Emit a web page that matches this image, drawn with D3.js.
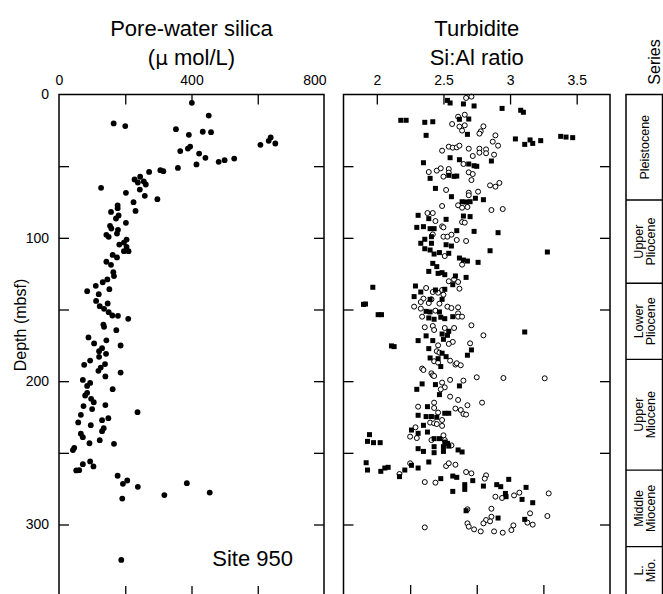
<!DOCTYPE html>
<html>
<head>
<meta charset="utf-8">
<script src="https://cdn.jsdelivr.net/npm/d3@7"></script>
<style>
  body { margin: 0; background: #fff; }
  text { font-family: "Liberation Sans", Arial, Helvetica, sans-serif; fill: #000; }
</style>
</head>
<body>
<svg id="chart" width="663" height="594"></svg>
<script>
// Pore-water silica, Site 950: [silica (µmol/L), depth (mbsf)]
const silica = [
  [401,5.8],[452,14.7],[165,20.2],[200,22.0],[353,24.2],[434,26.0],[459,26.3],[392,28.1],
  [639,30.0],[633,32.3],[653,34.2],[608,35.1],[396,36.3],[389,37.7],[366,39.5],[423,41.2],
  [442,44.2],[529,44.7],[500,45.8],[482,47.0],[415,48.8],[359,51.2],[272,54.0],[306,52.8],
  [315,53.5],[245,57.4],[228,59.3],[238,61.4],[256,60.7],[262,62.8],[127,65.1],[244,66.3],
  [202,68.6],[259,70.7],[297,73.0],[225,75.1],[177,77.4],[177,79.3],[231,81.2],[157,81.9],
  [180,84.4],[172,86.5],[202,89.5],[154,91.6],[158,93.5],[178,94.4],[175,97.0],[143,97.9],
  [150,99.3],[204,101.2],[196,103.3],[182,104.7],[204,106.3],[210,109.3],[196,109.3],[162,111.9],
  [175,113.7],[143,116.7],[157,118.8],[164,124.0],[166,126.7],[146,129.0],[132,131.0],[111,133.5],
  [152,135.8],[85,137.2],[120,139.3],[112,144.0],[147,145.8],[123,147.7],[136,149.5],[150,151.9],
  [161,154.2],[178,154.4],[209,156.5],[134,160.5],[136,162.1],[173,164.4],[89,169.5],[143,171.5],
  [106,173.7],[186,175.1],[130,177.0],[121,179.1],[142,180.9],[121,183.0],[94,185.6],[76,188.6],
  [139,188.1],[126,190.5],[119,192.8],[186,194.0],[140,196.7],[72,199.1],[94,201.2],[85,203.3],
  [162,205.6],[85,208.1],[79,210.0],[97,212.3],[105,214.7],[74,217.4],[140,216.7],[100,219.5],
  [237,221.6],[66,223.5],[149,225.8],[130,227.2],[58,228.8],[96,230.7],[135,232.8],[130,234.9],
  [66,236.7],[72,239.1],[123,241.2],[92,243.3],[166,243.7],[46,246.5],[42,248.1],[94,256.0],
  [72,257.9],[104,259.5],[61,262.1],[52,262.3],[177,266.0],[206,269.3],[193,271.6],[386,271.2],
  [238,273.7],[455,277.7],[318,279.5],[191,281.9],[188,324.7]
];

// Turbidite Si:Al ratio, filled squares: [ratio, depth (mbsf)]
const ratioSquares = [
  [2.53,4.1],[2.55,5.9],[2.65,6.6],[2.73,8.0],[2.94,9.7],[3.08,11.0],[3.10,12.4],[2.18,18.0],
  [2.22,18.0],[2.36,19.4],[2.42,19.0],[2.62,17.3],[2.69,17.1],[2.37,28.5],[2.68,27.8],[3.04,31.0],
  [3.11,34.8],[3.15,31.7],[3.17,34.1],[3.23,32.2],[3.38,29.2],[3.42,29.7],[3.47,30.1],[2.35,47.6],
  [2.55,44.1],[2.62,45.5],[2.69,48.5],[2.73,49.7],[2.75,50.1],[2.86,46.4],[2.40,58.5],[2.54,56.4],
  [2.58,57.1],[2.60,56.9],[2.44,65.5],[2.56,71.3],[2.74,72.4],[2.80,73.4],[2.64,74.8],[2.67,75.0],
  [2.70,74.8],[2.31,84.3],[2.39,86.6],[2.52,87.1],[2.65,84.8],[2.70,85.2],[2.30,92.7],[2.35,92.2],
  [2.40,93.6],[2.43,93.6],[2.41,99.2],[2.36,101.0],[2.33,103.8],[2.41,103.8],[2.36,107.6],[2.40,108.5],
  [2.43,111.3],[2.47,110.3],[2.54,110.8],[2.52,104.8],[2.56,105.7],[2.60,95.0],[2.73,95.5],[2.91,96.4],
  [2.85,109.0],[3.28,109.9],[2.62,114.1],[2.65,115.5],[2.68,116.2],[2.76,117.1],[2.42,117.8],[2.45,120.1],
  [2.39,123.4],[2.46,124.8],[2.49,124.3],[2.51,125.7],[2.59,126.6],[2.67,127.6],[2.57,132.7],[2.29,133.6],
  [2.33,137.8],[2.44,136.4],[2.51,135.9],[1.97,134.5],[2.28,141.0],[2.40,142.9],[2.49,142.9],[1.90,146.4],
  [1.915,146.2],[2.37,151.3],[2.40,151.7],[2.47,151.7],[2.01,153.6],[2.035,153.6],[2.39,155.9],[2.43,156.8],
  [2.48,155.4],[2.51,156.4],[2.57,155.0],[2.37,168.4],[2.31,171.7],[2.42,171.7],[2.50,170.8],[2.53,168.0],
  [2.54,165.2],[2.49,167.1],[2.11,175.4],[2.13,175.9],[2.39,177.3],[2.71,178.2],[2.68,181.9],[2.40,183.8],
  [2.46,184.3],[2.49,180.5],[2.52,182.9],[2.48,189.8],[3.11,165.7],[2.34,201.9],[2.30,205.7],[2.44,202.4],
  [2.62,203.3],[2.47,209.4],[2.38,217.8],[2.51,222.4],[2.54,222.4],[2.31,223.8],[2.37,224.7],[2.41,224.7],
  [2.45,225.2],[2.35,230.8],[1.945,237.3],[1.93,242.0],[1.975,242.9],[2.025,242.9],[2.26,234.1],[2.31,236.4],
  [2.38,235.5],[2.43,240.1],[2.47,240.1],[2.51,242.5],[2.53,243.4],[2.54,245.3],[2.50,245.7],[2.43,245.7],
  [2.31,247.1],[2.35,249.0],[2.43,249.9],[2.50,249.0],[2.61,248.0],[2.64,249.4],[1.92,256.9],[1.93,262.0],
  [2.03,262.9],[2.06,260.6],[2.085,260.1],[2.17,266.6],[2.21,262.0],[2.26,258.7],[2.31,260.6],[2.39,256.4],
  [2.48,268.0],[2.57,266.2],[2.60,267.1],[2.72,269.4],[2.66,272.2],[2.66,275.5],[2.57,276.9],[2.80,273.2],
  [2.90,272.2],[2.93,273.6],[2.99,268.5],[3.12,274.1],[2.965,278.3],[2.97,280.6],[3.09,282.5],[3.17,284.8],
  [2.67,290.4],[2.91,295.5],[3.11,296.4]
];

// Turbidite Si:Al ratio, open circles: [ratio, depth (mbsf)]
const ratioCircles = [
  [2.67,2.4],[2.71,1.5],[2.61,15.5],[2.66,14.1],[2.565,20.6],[2.62,22.4],[2.66,21.5],[2.64,25.2],
  [2.80,22.2],[2.78,25.7],[2.77,27.3],[2.89,28.5],[2.87,32.9],[2.91,35.7],[2.49,39.2],[2.54,36.4],
  [2.57,37.1],[2.60,36.9],[2.62,35.7],[2.69,37.8],[2.72,42.9],[2.77,37.8],[2.77,40.6],[2.82,38.3],
  [2.82,41.0],[2.88,42.0],[2.65,48.5],[2.39,54.1],[2.45,53.1],[2.48,51.5],[2.54,52.0],[2.54,54.5],
  [2.50,57.3],[2.69,54.3],[2.72,55.5],[2.71,59.7],[2.85,63.4],[2.89,64.3],[2.92,61.7],[2.52,66.6],
  [2.69,68.5],[2.69,70.3],[2.76,67.8],[2.49,77.8],[2.61,77.3],[2.64,79.0],[2.68,78.5],[2.86,80.6],
  [2.945,79.9],[2.38,82.7],[2.42,82.7],[2.44,88.3],[2.49,92.0],[2.50,92.7],[2.64,89.0],[2.66,89.4],
  [2.42,97.6],[2.50,99.2],[2.53,99.2],[2.56,97.8],[2.60,101.5],[2.67,102.2],[2.51,112.7],[2.64,118.7],
  [2.54,130.3],[2.58,129.0],[2.61,130.8],[2.62,135.5],[2.37,135.0],[2.42,137.8],[2.46,138.3],[2.49,136.4],
  [2.50,139.7],[2.35,142.4],[2.41,142.9],[2.33,144.8],[2.39,145.5],[2.47,145.9],[2.28,148.0],[2.33,149.4],
  [2.44,150.8],[2.53,148.0],[2.56,149.0],[2.61,148.5],[2.61,152.7],[2.34,155.0],[2.61,155.0],[2.64,155.0],
  [2.71,161.0],[2.80,168.0],[2.36,162.4],[2.42,161.5],[2.51,162.9],[2.58,162.9],[2.43,164.3],[2.57,172.6],
  [2.54,174.0],[2.70,173.6],[2.46,175.0],[2.45,179.1],[2.47,180.1],[2.43,186.1],[2.46,187.1],[2.55,185.7],
  [2.59,188.4],[2.60,187.5],[2.63,188.9],[2.34,191.2],[2.35,192.2],[2.41,194.5],[2.42,195.9],[2.43,196.4],
  [2.55,199.1],[2.75,197.3],[2.95,197.8],[3.26,198.0],[2.49,201.0],[2.51,204.3],[2.48,205.7],[2.65,199.6],
  [2.55,210.8],[2.61,213.1],[2.68,216.8],[2.79,215.0],[2.31,217.8],[2.43,215.0],[2.43,218.7],[2.59,219.1],
  [2.63,220.1],[2.65,222.9],[2.67,223.3],[2.46,221.9],[2.49,227.1],[2.40,228.9],[2.43,229.4],[2.45,229.9],
  [2.49,231.2],[2.29,232.2],[2.25,238.7],[2.30,239.7],[2.41,241.1],[2.51,241.1],[2.56,244.8],[2.50,237.8],
  [2.25,257.3],[2.52,259.2],[2.54,257.3],[2.59,258.3],[2.17,264.8],[2.36,270.4],[2.44,270.8],[2.67,263.4],
  [2.71,264.3],[2.82,265.7],[2.81,268.0],[2.89,280.6],[2.94,281.5],[3.03,279.7],[3.07,277.8],[3.29,278.3],
  [2.86,289.0],[2.68,289.4],[3.15,292.2],[3.28,294.1],[2.86,294.6],[2.82,296.9],[2.85,297.8],[2.80,299.2],
  [2.68,299.2],[2.69,301.5],[2.73,303.4],[2.78,304.8],[2.88,304.8],[2.945,305.7],[3.01,303.9],[3.025,300.6],
  [3.13,298.7],[3.17,300.1],[2.36,302.0]
];

// Stratigraphic series: [name lines, top depth, bottom depth]
const seriesNames = [["Pleistocene"], ["Upper", "Pliocene"], ["Lower", "Pliocene"],
                     ["Upper", "Miocene"], ["Middle", "Miocene"], ["L.", "Mio."]];
const seriesBounds = [0, 73.6, 131.7, 184.8, 262, 315.5, 360];

// Axis ticks
const depthLabelTicks = [0, 100, 200, 300];
const depthMinorTicks = [50, 100, 150, 200, 250, 300];
const silicaLabelTicks = [0, 400, 800];
const silicaTopTicks = [200, 400, 600];
const silicaBottomTicks = [200, 400, 600];
const ratioLabelTicks = [2, 2.5, 3, 3.5];
const ratioBottomTicks = [2.25, 2.75, 3.25];

const W = 663, H = 594;
const svg = d3.select("#chart");

const y = d3.scaleLinear().domain([0, 300]).range([94.5, 524.5]);
const xSi = d3.scaleLinear().domain([0, 800]).range([59, 324]);
const xR = d3.scaleLinear().domain([1.75, 3.75]).range([343.5, 610]);
const seriesX0 = 626, seriesX1 = 662.5;

const frameW = 1.5;

function frame(x0, x1) {
  svg.append("path")
    .attr("d", `M${x0},${H} V${y(0)} H${x1} V${H}`)
    .attr("fill", "none").attr("stroke", "#000").attr("stroke-width", frameW);
}

function styleAxis(g) {
  g.select(".domain").remove();
  g.selectAll(".tick line").attr("stroke", "#000").attr("stroke-width", 1.3);
  g.selectAll(".tick text").attr("font-size", 14).attr("fill", "#000")
    .style("font-family", '"Liberation Sans", Arial, sans-serif');
}

// ---- Pore-water silica panel ----
const gSi = svg.append("g");
gSi.selectAll("circle").data(silica).join("circle")
  .attr("cx", d => xSi(d[0])).attr("cy", d => y(d[1])).attr("r", 2.9).attr("fill", "#000");

svg.append("g").attr("transform", `translate(0,${y(0)})`)
  .call(d3.axisBottom(xSi).tickValues(silicaTopTicks).tickSize(10).tickFormat(""))
  .call(styleAxis);
svg.append("g").attr("transform", `translate(0,${H})`)
  .call(d3.axisTop(xSi).tickValues(silicaBottomTicks).tickSize(8).tickFormat(""))
  .call(styleAxis);
const siLab = svg.append("g").attr("transform", `translate(0,${y(0)})`)
  .call(d3.axisTop(xSi).tickValues(silicaLabelTicks).tickSize(0).tickPadding(9.5))
  .call(styleAxis);
siLab.selectAll(".tick text").filter(d => d === 800).attr("text-anchor", "end").attr("x", 2);

svg.append("g").attr("transform", `translate(${xSi.range()[0]},0)`)
  .call(d3.axisRight(y).tickValues(depthMinorTicks).tickSize(10).tickFormat(""))
  .call(styleAxis);
svg.append("g").attr("transform", `translate(${xSi.range()[1]},0)`)
  .call(d3.axisLeft(y).tickValues(depthMinorTicks).tickSize(10).tickFormat(""))
  .call(styleAxis);
svg.append("g").attr("transform", `translate(${xSi.range()[0]},0)`)
  .call(d3.axisLeft(y).tickValues(depthLabelTicks).tickSize(0).tickPadding(10))
  .call(styleAxis);
frame(xSi.range()[0], xSi.range()[1]);

// ---- Turbidite Si:Al panel ----
svg.append("g").selectAll("circle").data(ratioCircles).join("circle")
  .attr("cx", d => xR(d[0])).attr("cy", d => y(d[1])).attr("r", 2.5)
  .attr("fill", "#fff").attr("stroke", "#000").attr("stroke-width", 1);
const sq = 5;
svg.append("g").selectAll("rect").data(ratioSquares).join("rect")
  .attr("x", d => xR(d[0]) - sq / 2).attr("y", d => y(d[1]) - sq / 2)
  .attr("width", sq).attr("height", sq).attr("fill", "#000");

svg.append("g").attr("transform", `translate(0,${y(0)})`)
  .call(d3.axisBottom(xR).tickValues(ratioLabelTicks).tickSize(10).tickFormat(""))
  .call(styleAxis);
svg.append("g").attr("transform", `translate(0,${H})`)
  .call(d3.axisTop(xR).tickValues(ratioBottomTicks).tickSize(9).tickFormat(""))
  .call(styleAxis);
svg.append("g").attr("transform", `translate(0,${y(0)})`)
  .call(d3.axisTop(xR).tickValues(ratioLabelTicks).tickSize(0).tickPadding(9.5)
    .tickFormat(d3.format("~g")))
  .call(styleAxis);
svg.append("g").attr("transform", `translate(${xR.range()[0]},0)`)
  .call(d3.axisRight(y).tickValues(depthMinorTicks).tickSize(10).tickFormat(""))
  .call(styleAxis);
svg.append("g").attr("transform", `translate(${xR.range()[1]},0)`)
  .call(d3.axisLeft(y).tickValues(depthMinorTicks).tickSize(10).tickFormat(""))
  .call(styleAxis);
frame(xR.range()[0], xR.range()[1]);

// ---- Series column ----
frame(seriesX0, seriesX1);
const seriesCx = (seriesX0 + seriesX1) / 2;
seriesBounds.slice(1, -1).forEach(d => {
  svg.append("line").attr("x1", seriesX0).attr("x2", seriesX1)
    .attr("y1", y(d)).attr("y2", y(d)).attr("stroke", "#000").attr("stroke-width", 1.3);
});
seriesNames.forEach((lines, i) => {
  const top = y(seriesBounds[i]);
  const bot = Math.min(y(seriesBounds[i + 1]), H);
  const cy = (top + bot) / 2;
  const t = svg.append("text")
    .attr("transform", `translate(${seriesCx},${cy}) rotate(-90)`)
    .attr("text-anchor", "middle").attr("font-size", 12.5);
  const n = lines.length;
  lines.forEach((s, j) => {
    t.append("tspan").attr("x", 0).attr("y", 4.5 + (j - (n - 1) / 2) * 12).text(s);
  });
});

// ---- Titles and labels ----
const siMid = (xSi.range()[0] + xSi.range()[1]) / 2;
const rMid = (xR.range()[0] + xR.range()[1]) / 2;
function title(x, yb, s) {
  return svg.append("text").attr("x", x).attr("y", yb).attr("text-anchor", "middle")
    .attr("font-size", 22).text(s);
}
title(siMid, 36, "Pore-water silica");
const t2 = title(siMid, 65, "(");
t2.append("tspan").style("font-family", '"DejaVu Sans", sans-serif').attr("font-size", 20).text("\u03BC");
t2.append("tspan").text(" mol/L)");
title(rMid, 36, "Turbidite");
title(rMid, 65, "Si:Al ratio");

svg.append("text").attr("transform", `translate(660,62) rotate(-90)`)
  .attr("text-anchor", "middle").attr("font-size", 16).text("Series");

svg.append("text").attr("transform", `translate(26,325) rotate(-90)`)
  .attr("text-anchor", "middle").attr("font-size", 16).text("Depth (mbsf)");

svg.append("text").attr("x", 293).attr("y", 566).attr("text-anchor", "end")
  .attr("font-size", 22).text("Site 950");
</script>
</body>
</html>
